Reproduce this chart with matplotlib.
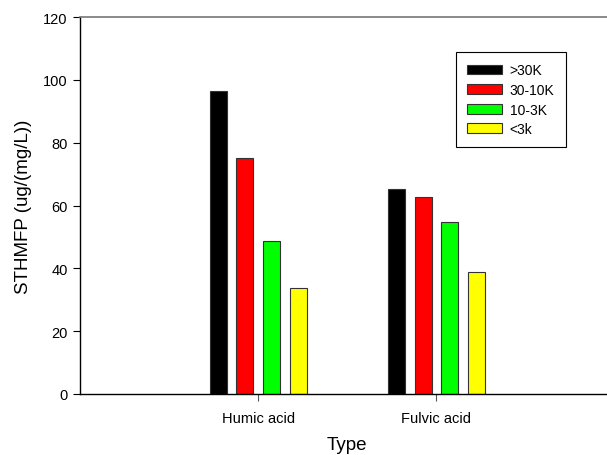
import matplotlib
matplotlib.use("Agg")
import matplotlib.pyplot as plt
import numpy as np

plt.rcParams['font.family'] = ['Liberation Sans', 'DejaVu Sans']

# data
types = ["Humic acid", "Fulvic acid"]
fractions = [">30K", "30-10K", "10-3K", "<3k"]
values = {
    ">30K":   [96.3, 65.2],
    "30-10K": [75.1, 62.6],
    "10-3K":  [48.6, 54.6],
    "<3k":    [33.6, 38.7],
}
colors = ["#000000", "#ff0000", "#00ff00", "#ffff00"]

fig = plt.figure(figsize=(6.07, 4.56), dpi=100)
# axes runs a little past the right edge, like the cropped original
ax = fig.add_axes([80 / 607, 1 - 395 / 456, (614.7 - 80) / 607, (395 - 18) / 456])

x = np.arange(1, len(types) + 1)
width = 0.095
offsets = [-0.225, -0.075, 0.075, 0.225]
for name, col, off in zip(fractions, colors, offsets):
    ax.bar(x + off, values[name], width, color=col, edgecolor="#333333",
           linewidth=0.8, label=name)

ax.set_xlim(0, 3)
ax.set_ylim(0, 120)
ax.set_yticks(np.arange(0, 121, 20))
ax.set_xticks(x)
ax.set_xticklabels(types)
ax.tick_params(axis="both", direction="out", length=5, width=0.8,
               labelsize=10.5, pad=4)
ax.tick_params(axis="x", pad=7, color="#555555")

ax.spines["right"].set_visible(False)
ax.spines["top"].set_color("#777777")
ax.spines["top"].set_linewidth(1.2)
ax.spines["left"].set_linewidth(1.0)
ax.spines["bottom"].set_linewidth(1.0)

ax.set_ylabel("STHMFP (ug/(mg/L))", fontsize=13.5, labelpad=8)
ax.set_xlabel("Type", fontsize=13.5, labelpad=8)

leg = ax.legend(loc="upper left", bbox_to_anchor=(455.7 / 607, 1 - 53.3 / 456),
                bbox_transform=fig.transFigure, fontsize=10, fancybox=False,
                edgecolor="black", framealpha=1, handlelength=2.5,
                handleheight=0.7, labelspacing=0.4, borderpad=0.8,
                handletextpad=0.6, borderaxespad=0)
leg.get_frame().set_linewidth(0.8)

fig.savefig("out.png", dpi=100)
